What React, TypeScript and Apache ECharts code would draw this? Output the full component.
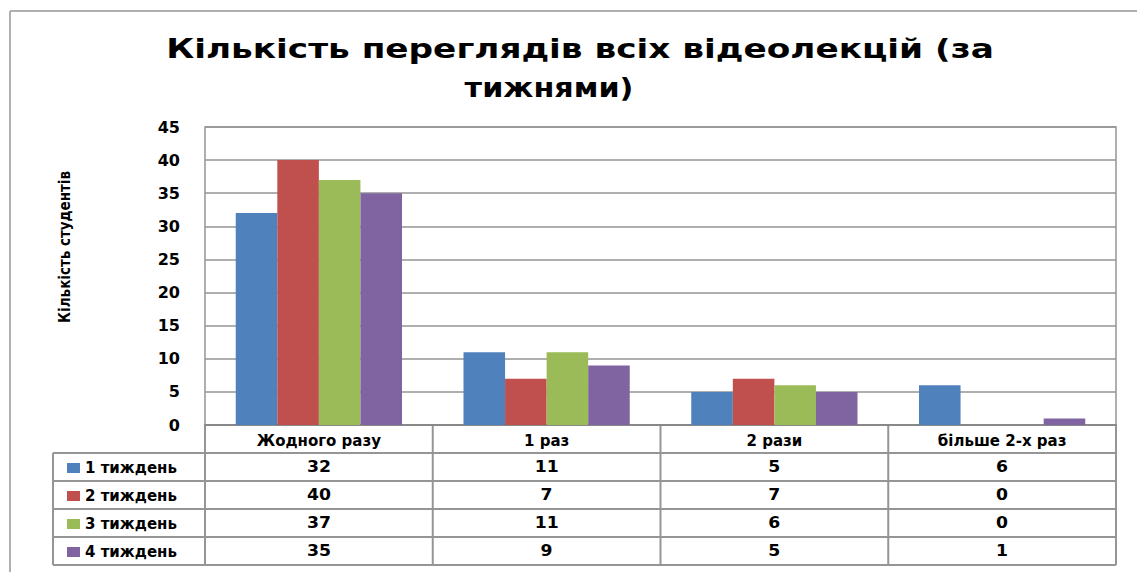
import React, { useEffect, useRef } from "react";
import * as echarts from "echarts";

const categories = ["Жодного разу", "1 раз", "2 рази", "більше 2-х раз"];
const seriesNames = ["1 тиждень", "2 тиждень", "3 тиждень", "4 тиждень"];
const week1 = [32, 11, 5, 6];
const week2 = [40, 7, 7, 0];
const week3 = [37, 11, 6, 0];
const week4 = [35, 9, 5, 1];
const seriesValues = [week1, week2, week3, week4];
const colors = ["#4F81BD", "#C0504D", "#9BBB59", "#8064A2"];
const titleLine1 = "Кількість переглядів всіх відеолекцій (за";
const titleLine2 = "тижнями)";
const yAxisName = "Кількість студентів";

const W = 1137;
const H = 572;
const GL = 205;
const GR = 1116;
const GT = 127;
const GB = 425;
const ROW = 28;
const TABLE_LEFT = 53;
const LINE_COLOR = "#959595";
const FONT = "'DejaVu Sans', Verdana, sans-serif";

export default function App() {
  const ref = useRef<HTMLDivElement>(null);
  useEffect(() => {
    if (!ref.current) return;
    const chart = echarts.init(ref.current, null, { renderer: "svg" });
    const colW = (GR - GL) / categories.length;
    const graphics: any[] = [];
    const line = (x1: number, y1: number, x2: number, y2: number) => ({
      type: "line",
      shape: { x1, y1, x2, y2 },
      style: { stroke: LINE_COLOR, lineWidth: 2 },
      silent: true,
    });
    // outer chart border (top and left)
    graphics.push({
      type: "line",
      shape: { x1: 10, y1: 11, x2: W, y2: 11 },
      style: { stroke: "#b0b0b0", lineWidth: 2 },
    });
    graphics.push({
      type: "line",
      shape: { x1: 10, y1: 11, x2: 10, y2: H },
      style: { stroke: "#b0b0b0", lineWidth: 2 },
    });
    // title (two lines)
    graphics.push({
      type: "text",
      x: 580,
      y: 48,
      scaleX: 1.27,
      style: {
        text: titleLine1,
        fill: "#000",
        font: `bold 27px ${FONT}`,
        textAlign: "center",
        textVerticalAlign: "middle",
      },
    });
    graphics.push({
      type: "text",
      x: 549,
      y: 88,
      scaleX: 1.12,
      style: {
        text: titleLine2,
        fill: "#000",
        font: `bold 27px ${FONT}`,
        textAlign: "center",
        textVerticalAlign: "middle",
      },
    });
    const tableBottom = GB + ROW * (seriesNames.length + 1);
    // vertical column lines
    for (let i = 0; i <= categories.length; i++) {
      const x = GL + i * colW;
      graphics.push(line(x, GB, x, tableBottom));
    }
    graphics.push(line(TABLE_LEFT, GB + ROW, TABLE_LEFT, tableBottom));
    // horizontal row lines
    for (let j = 1; j <= seriesNames.length + 1; j++) {
      const y = GB + j * ROW;
      graphics.push(line(TABLE_LEFT, y, GR, y));
    }
    // values
    seriesValues.forEach((vals, j) => {
      vals.forEach((v, i) => {
        graphics.push({
          type: "text",
          x: GL + (i + 0.5) * colW,
          y: GB + ROW * (j + 1) + ROW / 2,
          scaleX: 1.15,
          style: {
            text: String(v),
            fill: "#000",
            font: `bold 15px ${FONT}`,
            textAlign: "center",
            textVerticalAlign: "middle",
          },
        });
      });
    });

    chart.setOption({
      animation: false,
      backgroundColor: "#fff",
      legend: {
        orient: "vertical",
        left: 62,
        top: GB + ROW + 1,
        itemWidth: 13,
        itemHeight: 10,
        itemGap: 10,
        icon: "rect",
        data: seriesNames,
        textStyle: { fontFamily: FONT, fontSize: 15, fontWeight: "bold", color: "#000", lineHeight: 18 },
      },
      grid: {
        left: GL,
        right: W - GR,
        top: GT,
        bottom: H - GB,
        show: true,
        borderColor: LINE_COLOR,
        borderWidth: 1.5,
        containLabel: false,
      },
      xAxis: {
        type: "category",
        data: categories,
        axisLine: { show: true, lineStyle: { color: "#888", width: 2 } },
        axisTick: { show: false },
        axisLabel: {
          fontFamily: FONT,
          fontSize: 15,
          fontWeight: "bold",
          color: "#000",
          margin: 8,
        },
      },
      yAxis: {
        type: "value",
        min: 0,
        max: 45,
        interval: 5,
        name: yAxisName,
        nameLocation: "middle",
        nameGap: 133,
        nameTextStyle: {
          fontFamily: "'Liberation Sans Narrow', 'Arial Narrow', 'DejaVu Sans Condensed', sans-serif",
          fontSize: 15,
          fontWeight: "bold",
          color: "#000",
          padding: [0, 0, 0, 58],
        },
        axisLine: { show: false },
        axisTick: { show: false },
        axisLabel: { fontFamily: FONT, fontSize: 16, fontWeight: "bold", color: "#000", margin: 25 },
        splitLine: { show: true, lineStyle: { color: LINE_COLOR, width: 1.5 } },
      },
      series: seriesNames.map((name, k) => ({
        name,
        type: "bar",
        data: seriesValues[k],
        barGap: "0%",
        barCategoryGap: "27%",
        itemStyle: { color: colors[k] },
      })),
      graphic: graphics,
    });
    return () => chart.dispose();
  }, []);
  return (
    <div
      ref={ref}
      style={{ position: "fixed", left: 0, top: 0, width: W, height: H, background: "#fff" }}
    />
  );
}
